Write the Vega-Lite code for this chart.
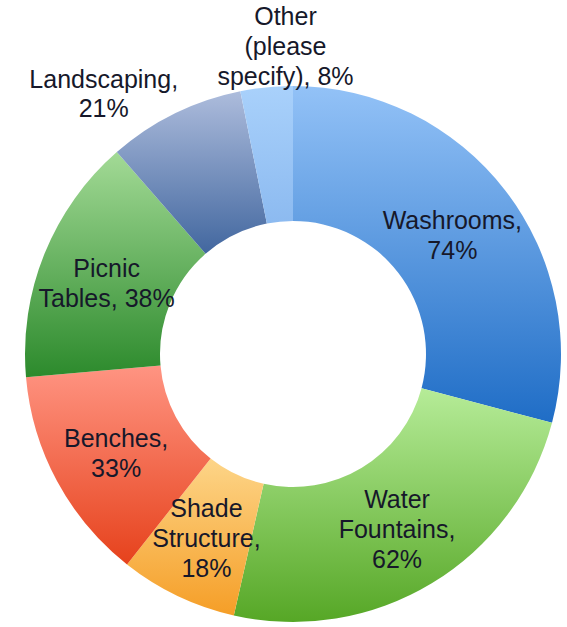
{
  "$schema": "https://vega.github.io/schema/vega-lite/v6.json",
  "width": 548,
  "height": 546,
  "padding": {"left": 19, "top": 81, "right": 0, "bottom": 0},
  "autosize": {"type": "none"},
  "background": "white",
  "config": {"view": {"stroke": null}},
  "data": {
    "values": [
      {"seq": 1, "item": "Washrooms", "value": 74, "label": "Washrooms,\n74%"},
      {"seq": 2, "item": "Water Fountains", "value": 62, "label": "Water\nFountains,\n62%"},
      {"seq": 3, "item": "Shade Structure", "value": 18, "label": "Shade\nStructure,\n18%"},
      {"seq": 4, "item": "Benches", "value": 33, "label": "Benches,\n33%"},
      {"seq": 5, "item": "Picnic Tables", "value": 38, "label": "Picnic\nTables, 38%"},
      {"seq": 6, "item": "Landscaping", "value": 21, "label": "Landscaping,\n21%"},
      {"seq": 7, "item": "Other (please specify)", "value": 8, "label": "Other\n(please\nspecify), 8%"}
    ]
  },
  "encoding": {
    "theta": {"field": "value", "type": "quantitative", "stack": true},
    "order": {"field": "seq", "type": "quantitative"}
  },
  "layer": [
    {
      "mark": {"type": "arc", "radius": 268, "innerRadius": 133,
        "color": {"gradient": "linear", "x1": 0, "y1": 0, "x2": 0, "y2": 1,
          "stops": [{"offset": 0, "color": "#93c2f7"}, {"offset": 1, "color": "#1f6dc6"}]}},
      "encoding": {"opacity": {"condition": {"test": "datum.item === 'Washrooms'", "value": 1}, "value": 0}}
    },
    {
      "mark": {"type": "arc", "radius": 268, "innerRadius": 133,
        "color": {"gradient": "linear", "x1": 0, "y1": 0, "x2": 0, "y2": 1,
          "stops": [{"offset": 0, "color": "#b6ec98"}, {"offset": 1, "color": "#56a726"}]}},
      "encoding": {"opacity": {"condition": {"test": "datum.item === 'Water Fountains'", "value": 1}, "value": 0}}
    },
    {
      "mark": {"type": "arc", "radius": 268, "innerRadius": 133,
        "color": {"gradient": "linear", "x1": 0, "y1": 0, "x2": 0, "y2": 1,
          "stops": [{"offset": 0, "color": "#fdd588"}, {"offset": 1, "color": "#f59e27"}]}},
      "encoding": {"opacity": {"condition": {"test": "datum.item === 'Shade Structure'", "value": 1}, "value": 0}}
    },
    {
      "mark": {"type": "arc", "radius": 268, "innerRadius": 133,
        "color": {"gradient": "linear", "x1": 0, "y1": 0, "x2": 0, "y2": 1,
          "stops": [{"offset": 0, "color": "#ff9482"}, {"offset": 1, "color": "#e6421c"}]}},
      "encoding": {"opacity": {"condition": {"test": "datum.item === 'Benches'", "value": 1}, "value": 0}}
    },
    {
      "mark": {"type": "arc", "radius": 268, "innerRadius": 133,
        "color": {"gradient": "linear", "x1": 0, "y1": 0, "x2": 0, "y2": 1,
          "stops": [{"offset": 0, "color": "#a3da96"}, {"offset": 1, "color": "#2c8a2c"}]}},
      "encoding": {"opacity": {"condition": {"test": "datum.item === 'Picnic Tables'", "value": 1}, "value": 0}}
    },
    {
      "mark": {"type": "arc", "radius": 268, "innerRadius": 133,
        "color": {"gradient": "linear", "x1": 0, "y1": 0, "x2": 0, "y2": 1,
          "stops": [{"offset": 0, "color": "#adbcdc"}, {"offset": 1, "color": "#42679f"}]}},
      "encoding": {"opacity": {"condition": {"test": "datum.item === 'Landscaping'", "value": 1}, "value": 0}}
    },
    {
      "mark": {"type": "arc", "radius": 268, "innerRadius": 133,
        "color": {"gradient": "linear", "x1": 0, "y1": 0, "x2": 0, "y2": 1,
          "stops": [{"offset": 0, "color": "#a9d1fb"}, {"offset": 1, "color": "#8cbaf0"}]}},
      "encoding": {"opacity": {"condition": {"test": "datum.item === 'Other (please specify)'", "value": 1}, "value": 0}}
    },
    {
      "mark": {"type": "text", "radius": 201, "dy": -10, "lineBreak": "\n", "font": "Liberation Sans", "fontSize": 25, "lineHeight": 30, "color": "#16182a", "align": "center", "baseline": "middle"},
      "encoding": {
        "text": {"field": "label", "type": "nominal"},
        "opacity": {"condition": {"test": "datum.seq === 1 || datum.seq === 4 || datum.seq === 5", "value": 1}, "value": 0}
      }
    },
    {
      "mark": {"type": "text", "radius": 201, "dy": -26, "lineBreak": "\n", "font": "Liberation Sans", "fontSize": 25, "lineHeight": 30, "color": "#16182a", "align": "center", "baseline": "middle"},
      "encoding": {
        "text": {"field": "label", "type": "nominal"},
        "opacity": {"condition": {"test": "datum.seq === 2 || datum.seq === 3", "value": 1}, "value": 0}
      }
    },
    {
      "mark": {"type": "text", "radius": 322, "dx": -47, "dy": 15, "lineBreak": "\n", "font": "Liberation Sans", "fontSize": 25, "lineHeight": 29, "color": "#16182a", "align": "center", "baseline": "middle"},
      "encoding": {
        "text": {"field": "label", "type": "nominal"},
        "opacity": {"condition": {"test": "datum.item === 'Landscaping'", "value": 1}, "value": 0}
      }
    },
    {
      "mark": {"type": "text", "radius": 309, "dx": 23, "dy": -30, "lineBreak": "\n", "font": "Liberation Sans", "fontSize": 25, "lineHeight": 30, "color": "#16182a", "align": "center", "baseline": "middle"},
      "encoding": {
        "text": {"field": "label", "type": "nominal"},
        "opacity": {"condition": {"test": "datum.item === 'Other (please specify)'", "value": 1}, "value": 0}
      }
    }
  ]
}
